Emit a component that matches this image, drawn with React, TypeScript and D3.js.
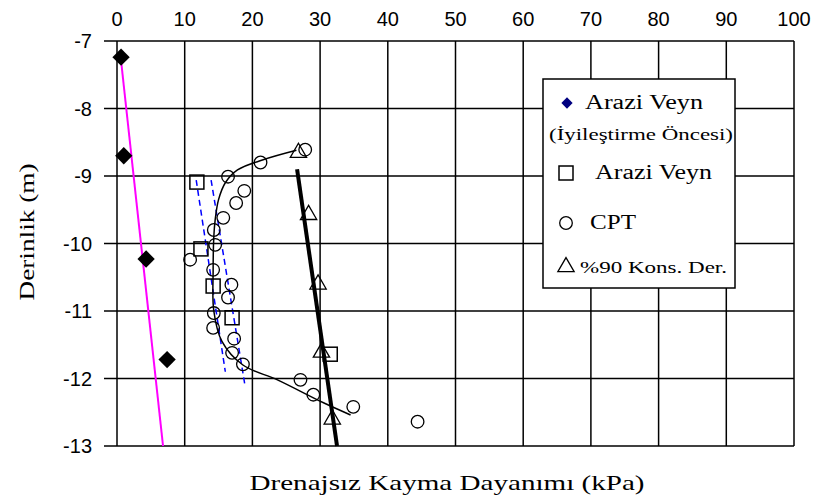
import React from "react";
import * as d3 from "d3";

const xTicks = [0, 10, 20, 30, 40, 50, 60, 70, 80, 90, 100];
const yTicks = [-7, -8, -9, -10, -11, -12, -13];

// Arazi Veyn (İyileştirme Öncesi)
const vaneBeforeX = [0.6, 1.0, 4.3, 7.4];
const vaneBeforeY = [-7.24, -8.7, -10.23, -11.72];
// Arazi Veyn
const vaneX = [11.8, 12.4, 14.2, 17.0, 31.5];
const vaneY = [-9.09, -10.08, -10.63, -11.1, -11.64];
// CPT
const cptX = [27.8, 21.2, 16.4, 18.8, 17.6, 15.7, 14.3, 14.5, 10.8, 14.2, 16.9, 16.4, 14.3, 14.2, 17.3, 17.0, 18.6, 27.1, 29.0, 34.9, 44.4];
const cptY = [-8.61, -8.8, -9.01, -9.22, -9.4, -9.62, -9.8, -10.02, -10.24, -10.39, -10.61, -10.8, -11.03, -11.25, -11.41, -11.62, -11.79, -12.02, -12.24, -12.42, -12.64];
// %90 Kons. Der.
const consX = [26.8, 28.3, 29.7, 30.2, 31.8];
const consY = [-8.64, -9.56, -10.59, -11.6, -12.59];

// trend lines
const magentaX = [0.5, 6.8];
const magentaY = [-7.2, -13];
const thickX = [26.6, 32.5];
const thickY = [-8.9, -13];
const dashLeftX = [11.7, 16.0];
const dashLeftY = [-9.06, -11.9];
const dashRightX = [13.9, 18.9];
const dashRightY = [-9.06, -12.1];
const curveX = [26.5, 21.6, 17.8, 16.0, 15.0, 14.5, 14.3, 14.2, 14.3, 15.5, 18.6, 23.7, 30.5, 34.5];
const curveY = [-8.62, -8.76, -8.91, -9.1, -9.35, -9.65, -9.9, -10.4, -11.0, -11.45, -11.8, -12.02, -12.36, -12.54];

const W = 818;
const H = 502;

export default function App() {
  const x = d3.scaleLinear().domain([0, 100]).range([117, 794]);
  const y = d3.scaleLinear().domain([-7, -13]).range([41, 446]);

  const line = d3.line<[number, number]>().x((d) => x(d[0])).y((d) => y(d[1]));
  const smooth = d3
    .line<[number, number]>()
    .x((d) => x(d[0]))
    .y((d) => y(d[1]))
    .curve(d3.curveCatmullRom.alpha(0.5));
  const zip = (a: number[], b: number[]) => a.map((v, i) => [v, b[i]] as [number, number]);

  const diamond = d3.symbol(d3.symbolSquare, 150)();
  const tri = d3.symbol(d3.symbolTriangle, 115)();

  const [x0, x1] = x.range();
  const [y0, y1] = y.range();

  const sans = "'Liberation Sans', Arial, sans-serif";
  const serif = "'Liberation Serif', 'Times New Roman', serif";

  const lx = 543, ly = 79, lw = 192, lh = 209;

  return (
    <svg width={W} height={H} style={{ position: "absolute", left: 0, top: 0, background: "#fff" }}>
      <rect width={W} height={H} fill="#fff" />
      {/* grid */}
      {xTicks.map((t) => (
        <line key={"gx" + t} x1={x(t)} x2={x(t)} y1={y0} y2={y1} stroke="#000" strokeWidth={1.5} />
      ))}
      {yTicks.map((t) => (
        <line key={"gy" + t} x1={x0 - 13} x2={x1} y1={y(t)} y2={y(t)} stroke="#000" strokeWidth={1.5} />
      ))}
      {/* tick labels */}
      {xTicks.map((t) => (
        <text key={"tx" + t} x={x(t)} y={26} textAnchor="middle" fontFamily={sans} fontSize={20} fill="#000">
          {t}
        </text>
      ))}
      {yTicks.map((t) => (
        <text key={"ty" + t} x={92} y={y(t) + 7} textAnchor="end" fontFamily={sans} fontSize={20} fill="#000">
          {t}
        </text>
      ))}
      {/* axis titles */}
      <text
        x={447}
        y={490}
        textAnchor="middle"
        fontFamily={serif}
        fontSize={21}
        textLength={395}
        lengthAdjust="spacingAndGlyphs"
        fill="#000"
      >
        Drenajsız Kayma Dayanımı (kPa)
      </text>
      <text
        transform={`translate(34,232) rotate(-90)`}
        textAnchor="middle"
        fontFamily={serif}
        fontSize={21}
        textLength={137}
        lengthAdjust="spacingAndGlyphs"
        fill="#000"
      >
        Derinlik (m)
      </text>

      {/* trend lines */}
      <path d={line(zip(magentaX, magentaY))!} stroke="#ff00ff" strokeWidth={2} fill="none" />
      <path d={line(zip(dashLeftX, dashLeftY))!} stroke="#0000ff" strokeWidth={1.5} strokeDasharray="6,4" fill="none" />
      <path d={line(zip(dashRightX, dashRightY))!} stroke="#0000ff" strokeWidth={1.5} strokeDasharray="6,4" fill="none" />
      <path d={smooth(zip(curveX, curveY))!} stroke="#000" strokeWidth={1.5} fill="none" />
      <path d={line(zip(thickX, thickY))!} stroke="#000" strokeWidth={4} fill="none" />

      {/* markers */}
      {vaneBeforeX.map((v, i) => (
        <path key={"d" + i} d={diamond!} transform={`translate(${x(v)},${y(vaneBeforeY[i])}) rotate(45)`} fill="#000" />
      ))}
      {vaneX.map((v, i) => (
        <rect key={"s" + i} x={x(v) - 7} y={y(vaneY[i]) - 7} width={14} height={14} fill="none" stroke="#000" strokeWidth={1.5} />
      ))}
      {cptX.map((v, i) => (
        <circle key={"c" + i} cx={x(v)} cy={y(cptY[i])} r={6.3} fill="none" stroke="#000" strokeWidth={1.3} />
      ))}
      {consX.map((v, i) => (
        <path key={"t" + i} d={tri!} transform={`translate(${x(v)},${y(consY[i]) + 1})`} fill="none" stroke="#000" strokeWidth={1.3} />
      ))}

      {/* legend */}
      <rect x={lx} y={ly} width={lw} height={lh} fill="#fff" stroke="#000" strokeWidth={1.5} />
      <path d={diamond!} transform={`translate(567,103) rotate(45) scale(0.65)`} fill="#000080" />
      <text x={585} y={109} fontFamily={serif} fontSize={20} textLength={118} lengthAdjust="spacingAndGlyphs" fill="#000">
        Arazi Veyn
      </text>
      <text x={549} y={140} fontFamily={serif} fontSize={17} textLength={184} lengthAdjust="spacingAndGlyphs" fill="#000">
        (İyileştirme Öncesi)
      </text>
      <rect x={559} y={166} width={14} height={14} fill="none" stroke="#000" strokeWidth={1.5} />
      <text x={595} y={179} fontFamily={serif} fontSize={20} textLength={117} lengthAdjust="spacingAndGlyphs" fill="#000">
        Arazi Veyn
      </text>
      <circle cx={566} cy={223} r={6.3} fill="none" stroke="#000" strokeWidth={1.3} />
      <text x={590} y={229} fontFamily={serif} fontSize={20} textLength={46} lengthAdjust="spacingAndGlyphs" fill="#000">
        CPT
      </text>
      <path d={tri!} transform={`translate(566,267)`} fill="none" stroke="#000" strokeWidth={1.3} />
      <text x={580} y={273} fontFamily={serif} fontSize={17} textLength={147} lengthAdjust="spacingAndGlyphs" fill="#000">
        %90 Kons. Der.
      </text>
    </svg>
  );
}
